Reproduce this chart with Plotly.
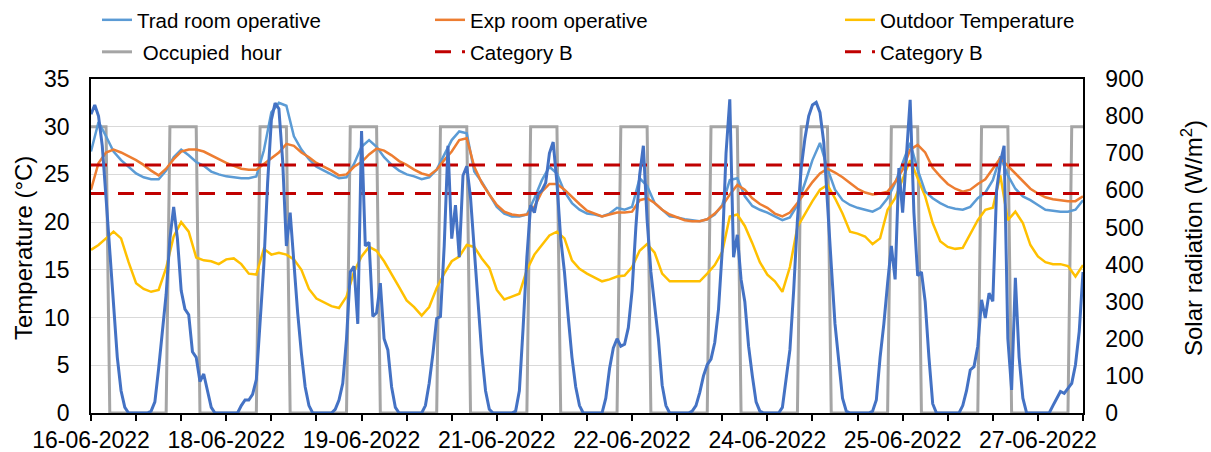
import pandas as pd
import plotly.graph_objects as go

# ---------------- data ----------------
START = "2022-06-16 12:00"
hours = pd.date_range(START, periods=265, freq="h")      # hourly samples
hours2 = pd.date_range(START, periods=133, freq="2h")    # 2-hourly temperature readings

# Solar radiation (W/m2), hourly, 16-06 12:00 -> 27-06 12:00
solar = (
    [805, 830, 800, 720, 580, 430, 280, 150, 60, 15, 0, 0]                                                # 16-06
    + [0, 0, 0, 0, 5, 30, 120, 215, 320, 470, 555, 470, 330, 280, 265, 165, 150, 85, 105, 60, 15, 0, 0, 0]  # 17-06
    + [0, 0, 0, 0, 20, 35, 35, 50, 90, 250, 400, 620, 790, 835, 820, 680, 450, 540, 400, 270, 160, 70, 20, 0]  # 18-06
    + [0, 0, 0, 0, 0, 10, 35, 80, 200, 380, 395, 240, 760, 450, 460, 260, 270, 350, 200, 170, 70, 15, 0, 0]  # 19-06
    + [0, 0, 0, 0, 0, 20, 80, 160, 255, 260, 450, 720, 470, 560, 420, 640, 665, 580, 450, 300, 160, 60, 10, 0]  # 20-06
    + [0, 0, 0, 0, 0, 5, 60, 230, 420, 560, 540, 590, 600, 620, 700, 730, 620, 470, 380, 260, 150, 70, 20, 0]  # 21-06
    + [0, 0, 0, 0, 0, 40, 120, 175, 200, 180, 185, 230, 330, 500, 640, 720, 520, 380, 285, 200, 75, 20, 0, 0]  # 22-06
    + [0, 0, 0, 0, 5, 20, 55, 100, 130, 145, 190, 280, 440, 700, 845, 420, 480, 360, 300, 180, 100, 30, 5, 0]  # 23-06
    + [0, 0, 0, 0, 15, 90, 170, 330, 520, 660, 740, 800, 830, 837, 810, 730, 580, 400, 240, 134, 40, 5, 0, 0]  # 24-06
    + [0, 0, 0, 0, 5, 35, 150, 240, 350, 450, 360, 660, 540, 690, 844, 540, 370, 380, 300, 150, 25, 0, 0, 0]  # 25-06
    + [0, 0, 0, 0, 20, 60, 116, 125, 180, 305, 256, 323, 301, 600, 675, 720, 200, 62, 364, 150, 40, 0, 0, 0]  # 26-06
    + [0, 0, 0, 0, 20, 40, 58, 53, 65, 80, 130, 220, 380]                                                  # 27-06
)

# Occupied hour indicator (plotted as 30 on the temperature axis), hourly
occupied = (
    [30, 30, 30, 30, 30, 0, 0, 0, 0, 0, 0, 0]
    + [0, 0, 0, 0, 0, 0, 0, 0, 0, 30, 30, 30, 30, 30, 30, 30, 30, 0, 0, 0, 0, 0, 0, 0]
    + [0, 0, 0, 0, 0, 0, 0, 0, 0, 30, 30, 30, 30, 30, 30, 30, 30, 0, 0, 0, 0, 0, 0, 0]
    + [0, 0, 0, 0, 0, 0, 0, 0, 0, 30, 30, 30, 30, 30, 30, 30, 30, 0, 0, 0, 0, 0, 0, 0]
    + [0, 0, 0, 0, 0, 0, 0, 0, 0, 30, 30, 30, 30, 30, 30, 30, 30, 0, 0, 0, 0, 0, 0, 0]
    + [0, 0, 0, 0, 0, 0, 0, 0, 0, 30, 30, 30, 30, 30, 30, 30, 30, 0, 0, 0, 0, 0, 0, 0]
    + [0, 0, 0, 0, 0, 0, 0, 0, 0, 30, 30, 30, 30, 30, 30, 30, 30, 0, 0, 0, 0, 0, 0, 0]
    + [0, 0, 0, 0, 0, 0, 0, 0, 0, 30, 30, 30, 30, 30, 30, 30, 30, 0, 0, 0, 0, 0, 0, 0]
    + [0, 0, 0, 0, 0, 0, 0, 0, 0, 30, 30, 30, 30, 30, 30, 30, 30, 0, 0, 0, 0, 0, 0, 0]
    + [0, 0, 0, 0, 0, 0, 0, 0, 0, 30, 30, 30, 30, 30, 30, 30, 30, 0, 0, 0, 0, 0, 0, 0]
    + [0, 0, 0, 0, 0, 0, 0, 0, 0, 30, 30, 30, 30, 30, 30, 30, 30, 0, 0, 0, 0, 0, 0, 0]
    + [0, 0, 0, 0, 0, 0, 0, 0, 0, 30, 30, 30, 30]
)

# Operative / outdoor temperatures (degC), every 2 hours
trad = [
    27.4, 30.5, 29.0, 27.4, 26.5, 25.8, 25.1, 24.7, 24.5, 24.5, 25.4, 26.8,
    27.6, 27.0, 26.3, 25.9, 25.3, 25.0, 24.8, 24.7, 24.6, 24.6, 24.8, 27.5,
    31.5, 32.5, 32.2, 29.0, 27.6, 26.6, 25.8, 25.4, 25.0, 24.6, 24.7, 26.1,
    27.9, 28.6, 27.9, 26.8, 26.0, 25.4, 25.0, 24.8, 24.5, 24.7, 25.5, 27.0,
    28.6, 29.5, 29.3, 25.3, 24.2, 22.9, 21.6, 20.9, 20.6, 20.6, 20.8, 22.5,
    24.4, 25.8, 25.1, 23.2, 22.0, 21.3, 20.9, 20.8, 20.6, 20.9, 21.5, 21.3,
    21.6, 24.6, 23.8, 22.0, 21.3, 20.6, 20.5, 20.3, 20.2, 20.1, 20.3, 20.8,
    21.8, 24.4, 24.6, 22.7, 21.7, 21.3, 21.0, 20.6, 20.2, 20.5, 21.8, 24.1,
    26.5, 28.3, 25.6, 23.4, 22.3, 21.8, 21.5, 21.3, 21.1, 21.5, 22.5, 24.1,
    26.2, 28.3, 25.5, 23.2, 22.5, 22.0, 21.6, 21.4, 21.3, 21.6, 22.5, 23.1,
    24.4, 26.9, 24.9, 23.5, 22.7, 22.3, 21.8, 21.3, 21.2, 21.1, 21.1, 21.3,
    22.3,
]
exp_room = [
    23.4, 26.2, 27.3, 27.6, 27.3, 26.9, 26.5, 26.0, 25.4, 24.9, 25.6, 26.6,
    27.4, 27.6, 27.6, 27.4, 27.0, 26.6, 26.2, 25.9, 25.6, 25.5, 25.5, 26.1,
    26.7, 27.3, 28.2, 28.0, 27.3, 26.8, 26.2, 25.8, 25.4, 24.9, 25.0, 25.8,
    26.3, 27.1, 27.7, 27.5, 27.0, 26.4, 26.0, 25.5, 25.1, 24.9, 25.5, 26.5,
    27.4, 28.6, 28.8, 25.8, 24.1, 22.9, 21.8, 21.1, 20.8, 20.7, 20.8, 21.6,
    23.2, 24.0, 24.0, 23.4, 22.6, 21.9, 21.2, 20.9, 20.6, 20.8, 21.0, 21.0,
    21.1, 22.3, 22.5, 22.0, 21.3, 20.8, 20.5, 20.2, 20.1, 20.1, 20.3, 20.9,
    21.7, 22.9, 23.9, 23.4, 22.5, 21.9, 21.5, 20.9, 20.6, 21.0, 22.0, 23.1,
    24.2, 25.1, 25.6, 25.2, 24.7, 24.1, 23.5, 23.1, 22.9, 23.0, 23.2, 24.2,
    25.5, 27.6, 28.1, 27.3, 25.7, 24.8, 24.0, 23.5, 23.2, 23.4, 24.0, 24.5,
    25.6, 26.7, 25.9, 25.1, 24.2, 23.5, 23.0, 22.6, 22.4, 22.3, 22.2, 22.2,
    22.7,
]
outdoor = [
    17.1, 17.6, 18.3, 19.0, 18.3, 15.8, 13.6, 13.0, 12.7, 12.9, 15.2, 18.5,
    20.0, 19.0, 16.3, 16.0, 15.9, 15.6, 16.1, 16.2, 15.6, 14.6, 14.5, 17.2,
    16.6, 16.8, 16.6, 16.1, 15.0, 13.0, 12.0, 11.6, 11.2, 11.0, 12.2, 14.8,
    16.4, 17.4, 17.0, 15.9, 14.6, 13.2, 11.8, 11.1, 10.2, 11.1, 13.1, 14.6,
    15.9, 16.4, 17.6, 17.4, 16.2, 15.2, 12.9, 11.9, 12.2, 12.5, 15.0, 16.6,
    17.6, 18.6, 19.0, 18.3, 16.0, 15.1, 14.6, 14.2, 13.8, 14.0, 14.3, 14.4,
    15.3, 17.0, 17.7, 16.8, 14.6, 13.8, 13.8, 13.8, 13.8, 13.8, 14.6, 15.5,
    16.9, 20.6, 20.8, 19.6, 17.8, 15.8, 14.5, 13.8, 12.7, 15.3, 19.5, 20.9,
    22.2, 23.4, 23.9, 22.5, 20.9, 19.0, 18.8, 18.5, 17.7, 18.3, 21.3, 22.5,
    24.5, 26.5, 24.6, 22.7, 19.9, 18.0, 17.4, 17.2, 17.3, 18.8, 20.2, 21.3,
    21.5, 24.9, 20.2, 21.1, 19.9, 17.6, 16.4, 15.8, 15.6, 15.6, 15.4, 14.3,
    15.5,
]

CAT_B_UPPER = 26
CAT_B_LOWER = 23

TICK_LABELS = [
    "16-06-2022", "", "", "18-06-2022", "", "", "19-06-2022", "", "",
    "21-06-2022", "", "", "22-06-2022", "", "", "24-06-2022", "", "",
    "25-06-2022", "", "", "27-06-2022", "",
]
tick_vals = [t.strftime("%Y-%m-%d %H:%M") for t in pd.date_range(START, periods=len(TICK_LABELS), freq="12h")]
x_range = [hours[0].strftime("%Y-%m-%d %H:%M"), hours[-1].strftime("%Y-%m-%d %H:%M")]

Y_TITLE_LEFT = "Temperature (°C)"
Y_TITLE_RIGHT = "Solar radiation (W/m<sup>2</sup>)"

# ---------------- figure ----------------
FONT = "Liberation Sans, Arial, sans-serif"
DASH = "16px,11px"
fig = go.Figure()

fig.add_trace(go.Scatter(x=hours, y=occupied, mode="lines", name="\u00a0Occupied\u00a0\u00a0hour",
                         line=dict(color="#A5A5A5", width=3), legend="legend4"))
fig.add_trace(go.Scatter(x=hours2, y=outdoor, mode="lines", name="Outdoor Temperature",
                         line=dict(color="#FFC000", width=2.5), legend="legend3"))
fig.add_trace(go.Scatter(x=hours2, y=trad, mode="lines", name="Trad room operative",
                         line=dict(color="#5B9BD5", width=2.5), legend="legend"))
fig.add_trace(go.Scatter(x=hours2, y=exp_room, mode="lines", name="Exp room operative",
                         line=dict(color="#ED7D31", width=2.5), legend="legend2"))
fig.add_trace(go.Scatter(x=[hours[0], hours[-1]], y=[CAT_B_UPPER, CAT_B_UPPER], mode="lines",
                         name="Category B", line=dict(color="#C00000", width=3, dash=DASH),
                         legend="legend5"))
fig.add_trace(go.Scatter(x=[hours[0], hours[-1]], y=[CAT_B_LOWER, CAT_B_LOWER], mode="lines",
                         name="Category B", line=dict(color="#C00000", width=3, dash=DASH),
                         legend="legend6"))
fig.add_trace(go.Scatter(x=hours, y=solar, mode="lines", name="Solar radiation", yaxis="y2",
                         line=dict(color="#4472C4", width=3), showlegend=False))

W, H = 1211, 452


def leg(px, py):
    return dict(x=px / W, y=1 - py / H, xref="container", yref="container",
                xanchor="left", yanchor="middle", bgcolor="rgba(0,0,0,0)",
                borderwidth=0, font=dict(family=FONT, size=20.5, color="#000"))


fig.update_layout(
    width=W, height=H,
    margin=dict(l=91, r=128, t=79, b=39, autoexpand=False),
    paper_bgcolor="white", plot_bgcolor="white",
    font=dict(family=FONT, color="#000"),
    legend=leg(97, 20), legend2=leg(430, 20), legend3=leg(840, 20),
    legend4=leg(97, 52), legend5=leg(430, 52), legend6=leg(840, 52),
    xaxis=dict(
        type="date", range=x_range,
        tickmode="array", tickvals=tick_vals, ticktext=TICK_LABELS,
        tickfont=dict(size=23, family=FONT, color="#000"), tickangle=0,
        ticks="outside", ticklen=6, tickwidth=1.5, tickcolor="#000",
        showline=True, linecolor="#000", linewidth=1.5, mirror=True,
        showgrid=False, zeroline=False, layer="below traces",
    ),
    yaxis=dict(
        range=[0, 35], dtick=5, tick0=0,
        tickfont=dict(size=23, family=FONT, color="#000"),
        ticks="", ticklabelstandoff=15,
        showline=True, linecolor="#000", linewidth=1.5,
        showgrid=True, gridcolor="#D9D9D9", gridwidth=1.3, zeroline=False,
        layer="below traces",
    ),
    yaxis2=dict(
        overlaying="y", side="right", range=[0, 900], dtick=100, tick0=0,
        tickfont=dict(size=23, family=FONT, color="#000"),
        ticks="", ticklabelstandoff=16,
        showline=True, linecolor="#000", linewidth=1.5,
        showgrid=False, zeroline=False, layer="below traces",
    ),
    annotations=[
        dict(text=Y_TITLE_LEFT, xref="paper", yref="paper", x=0, y=0.5, xshift=-68, yshift=-2,
             xanchor="center", yanchor="middle", textangle=-90, showarrow=False,
             font=dict(size=24, family=FONT, color="#000")),
        dict(text=Y_TITLE_RIGHT, xref="paper", yref="paper", x=1, y=0.5, xshift=109, yshift=8,
             xanchor="center", yanchor="middle", textangle=-90, showarrow=False,
             font=dict(size=24, family=FONT, color="#000")),
    ],
)

fig.write_html(
    "out.html",
    config={"displayModeBar": False},
    post_script="document.body.style.margin='0px';document.body.style.overflow='hidden';",
)
